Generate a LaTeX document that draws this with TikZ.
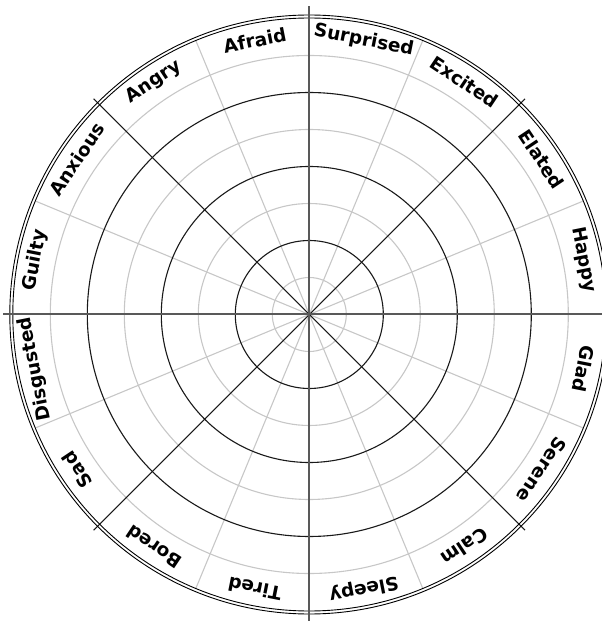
\documentclass[tikz,border=0pt]{standalone}
\usepackage{fontspec}
\setmainfont{DejaVu Sans}
\begin{document}
\begin{tikzpicture}[x=1pt, y=1pt,
  grid/.style={draw=black!22, line width=1.1pt},
  ring/.style={draw=black!90, line width=1.1pt},
  axis/.style={draw=black!65, line width=2pt},
  rim/.style={draw=black, line width=0.9pt},
  mood/.style={font=\fontsize{18.5}{21}\selectfont\bfseries, inner sep=0pt, anchor=center}
]
\useasboundingbox (-309.3,-306.5) rectangle (292.7,314.5);
\clip (-309.3,-306.5) rectangle (292.7,314.5);
% light grid
\foreach \r in {37,111,185,259}
  \draw[grid] (0,0) circle (\r);
\foreach \a in {22.5,67.5,...,337.5}
  \draw[grid] (0,0) -- (\a:296.5);
% dark rings and diagonals
\foreach \r in {74,148,222}
  \draw[ring] (0,0) circle (\r);
\foreach \a in {45,135,225,315}
  \draw[ring] (0,0) -- (\a:305);
% outer rim
\draw[rim] (0,0) circle (296.5) (0,0) circle (299.5);
% axes
\draw[axis] (-306,0) -- (306,0);
\draw[axis] (0,-310) -- (0,308);
% labels, clockwise from the top
\foreach \t [count=\i from 0] in {Surprised,Excited,Elated,Happy,Glad,Serene,Calm,Sleepy,Tired,Bored,Sad,Disgusted,Guilty,Anxious,Angry,Afraid}
  \node[mood, rotate=-11.25-22.5*\i] (lbl-\t) at ({78.75-22.5*\i}:279.5) {\t};
\end{tikzpicture}
\end{document}
